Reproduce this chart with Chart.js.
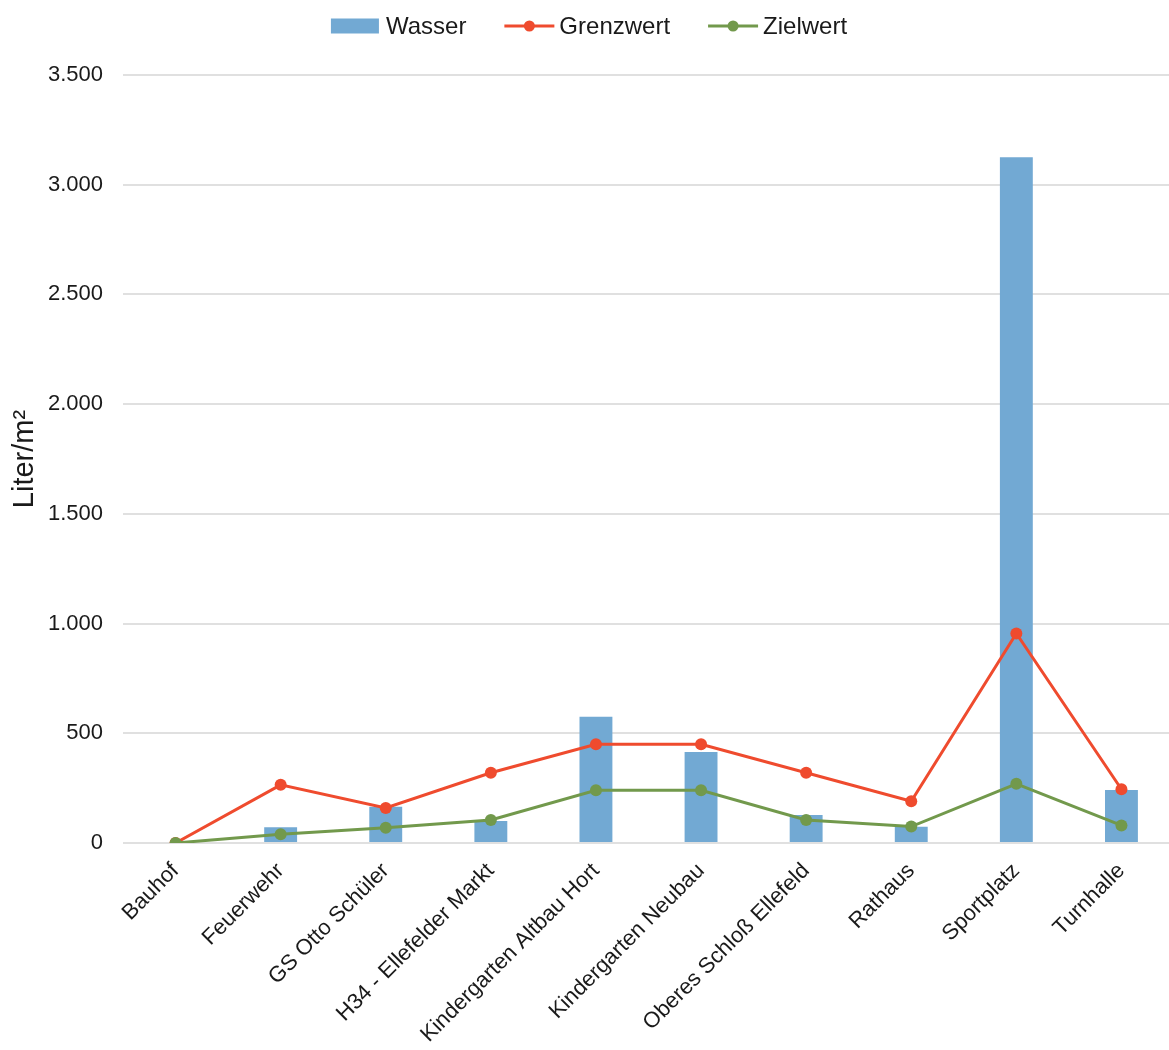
<!DOCTYPE html>
<html>
<head>
<meta charset="utf-8">
<script src="https://cdn.jsdelivr.net/npm/chart.js@4/dist/chart.umd.min.js"></script>
<style>
  html, body { margin: 0; padding: 0; background: #ffffff; overflow: hidden; }
  #wrap { width: 1169px; height: 1050px; overflow: hidden; }
  #c { display: block; }
</style>
</head>
<body>
<div id="wrap"><canvas id="c" width="1180" height="1050"></canvas></div>
<script>
// Gebäude
const categories = [
  'Bauhof', 'Feuerwehr', 'GS Otto Schüler', 'H34 - Ellefelder Markt',
  'Kindergarten Altbau Hort', 'Kindergarten Neubau', 'Oberes Schloß Ellefeld',
  'Rathaus', 'Sportplatz', 'Turnhalle'
];
// Wasserverbrauch in Liter/m²
const wasser    = [0, 72, 165, 100, 575, 415, 128, 74, 3125, 242];
const grenzwert = [0, 265, 160, 320, 450, 450, 320, 190, 955, 245];
const zielwert  = [0, 40, 70, 105, 240, 240, 105, 75, 270, 80];
const yTicks    = [0, 500, 1000, 1500, 2000, 2500, 3000, 3500];

const BLUE = '#72a9d3';
const RED = '#ef4b2e';
const GREEN = '#72994c';
const TEXT = '#1a1a1a';
const FONT = '"Liberation Sans", Arial, sans-serif';

// Legend drawn in one row above the plot: box for bars, line with dot for lines
const rowLegend = {
  id: 'rowLegend',
  afterDraw(chart) {
    const ctx = chart.ctx;
    const size = 24, markW = 50, gapText = 5, gapItem = 38, yMid = 26, centerX = 589;
    ctx.save();
    ctx.font = size + 'px ' + FONT;
    ctx.textBaseline = 'middle';
    const items = chart.data.datasets.map(ds => ({
      ds, w: markW + gapText + ctx.measureText(ds.label).width
    }));
    const total = items.reduce((s, it) => s + it.w, 0) + gapItem * (items.length - 1);
    let x = centerX - total / 2;
    items.forEach(({ ds, w }) => {
      const col = ds.borderColor || ds.backgroundColor;
      if (ds.type === 'bar') {
        ctx.fillStyle = ds.backgroundColor;
        ctx.fillRect(x, yMid - 7.5, markW - 2, 15);
      } else {
        ctx.strokeStyle = col;
        ctx.lineWidth = 3;
        ctx.beginPath(); ctx.moveTo(x, yMid); ctx.lineTo(x + markW, yMid); ctx.stroke();
        ctx.fillStyle = col;
        ctx.beginPath(); ctx.arc(x + markW / 2, yMid, 5.5, 0, Math.PI * 2); ctx.fill();
      }
      ctx.fillStyle = TEXT;
      ctx.textAlign = 'left';
      ctx.fillText(ds.label, x + markW + gapText, yMid + 1);
      x += w + gapItem;
    });
    ctx.restore();
  }
};

new Chart(document.getElementById('c'), {
  data: {
    labels: categories,
    datasets: [
      {
        type: 'bar', label: 'Wasser', data: wasser,
        backgroundColor: BLUE, order: 3,
        barPercentage: 0.313, categoryPercentage: 1.0
      },
      {
        type: 'line', label: 'Grenzwert', data: grenzwert,
        borderColor: RED, backgroundColor: RED, borderWidth: 3,
        pointRadius: 6, pointBackgroundColor: RED, pointBorderWidth: 0,
        tension: 0, order: 2
      },
      {
        type: 'line', label: 'Zielwert', data: zielwert,
        borderColor: GREEN, backgroundColor: GREEN, borderWidth: 3,
        pointRadius: 6, pointBackgroundColor: GREEN, pointBorderWidth: 0,
        tension: 0, order: 1
      }
    ]
  },
  plugins: [rowLegend],
  options: {
    responsive: false,
    animation: false,
    layout: { padding: { top: 75, right: 0, left: 0, bottom: 0 } },
    plugins: {
      tooltip: { enabled: false },
      legend: { display: false }
    },
    scales: {
      x: {
        grid: { display: false, drawTicks: false },
        border: { display: false },
        ticks: {
          color: TEXT,
          font: { family: FONT, size: 22 },
          maxRotation: 45, minRotation: 45,
          padding: 15,
          autoSkip: false
        },
        afterFit(scale) { scale.height = 207; }
      },
      y: {
        min: 0, max: 3500,
        afterBuildTicks(scale) { scale.ticks = yTicks.map(v => ({ value: v })); },
        grid: { color: '#e0e0e0', lineWidth: 2, drawTicks: false },
        border: { display: false },
        ticks: {
          color: TEXT,
          font: { family: FONT, size: 22 },
          padding: 20,
          callback: v => v.toLocaleString('de-DE')
        },
        title: {
          display: true, text: 'Liter/m²', color: TEXT,
          font: { family: FONT, size: 29 },
          padding: { top: 8, bottom: 0 }
        },
        afterFit(scale) { scale.width = 123; }
      }
    }
  }
});
</script>
</body>
</html>
